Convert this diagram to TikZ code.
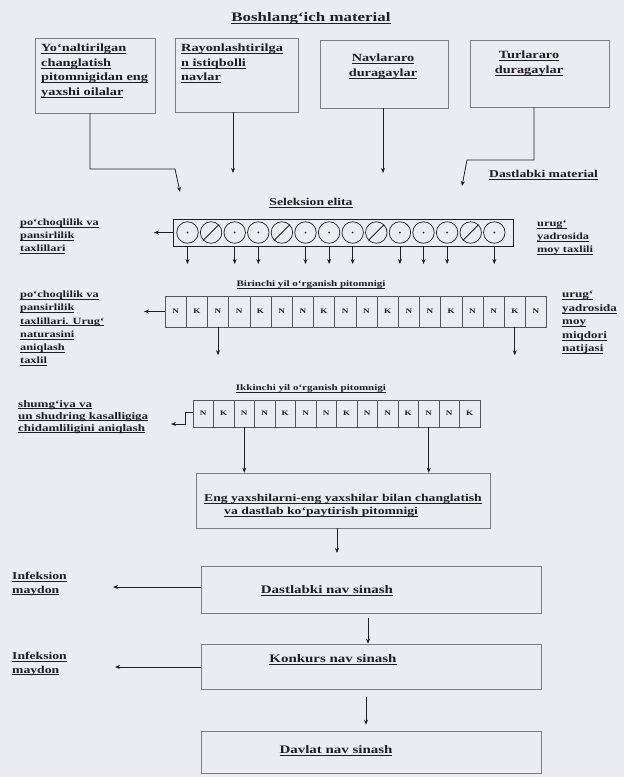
\documentclass[tikz,border=0pt]{standalone}
\usepackage{fontspec}
\setmainfont{Liberation Serif}[FakeStretch=1.3]
\usetikzlibrary{arrows.meta,calc}
\definecolor{bg}{RGB}{233,236,240}
\definecolor{ink}{RGB}{30,30,35}
\definecolor{boxc}{RGB}{125,125,130}
\newcommand{\uln}[1]{\underline{\raisebox{0pt}[\height][0pt]{#1}}}
\newcommand{\fsz}[2]{\fontsize{#1}{#2}\selectfont}
\tikzset{
  txt/.style={text=ink, inner sep=0pt, align=left},
  lab/.style={txt, font=\bfseries\fsz{9.5}{13}},
  boxtxt/.style={txt, font=\bfseries\fsz{11}{14.5}},
  bigtxt/.style={txt, font=\bfseries\fsz{11.5}{14}},
  rowttl/.style={txt, font=\bfseries\fsz{8.5}{11}},
  boxs/.style={draw=boxc, line width=0.6pt, inner sep=0pt},
  ring/.style={circle, draw=ink, line width=0.7pt, minimum size=21.5pt, inner sep=0pt},
  cell/.style={draw=ink!75, line width=0.5pt, inner sep=0pt, font=\bfseries\fsz{7}{8}, text=ink},
  arr/.style={draw=ink, line width=0.8pt, -{Stealth[length=5pt,width=4pt]}}
}
\begin{document}
\begin{tikzpicture}[x=1pt,y=-1pt]
\fill[bg] (0,0) rectangle (624,777);
\useasboundingbox (0,0) rectangle (624,777);

% title
\node[txt, font=\bfseries\fsz{13}{15}] (title) at (311,18) {\uln{Boshlang‘ich material}};

% top boxes
\node[boxs, minimum width=120pt, minimum height=75pt] (b1) at (95,75.5) {};
\node[boxtxt, anchor=north west] (t1) at (41,44) {\uln{Yo‘naltirilgan}\\\uln{changlatish}\\\uln{pitomnigidan eng}\\\uln{yaxshi oilalar}};
\node[boxs, minimum width=123pt, minimum height=74pt] (b2) at (236.5,75) {};
\node[boxtxt, anchor=north west] (t2) at (181,44) {\uln{Rayonlashtirilga}\\\uln{n istiqbolli}\\\uln{navlar}};
\node[boxs, minimum width=128pt, minimum height=68pt] (b3) at (384,74) {};
\node[boxtxt, anchor=north, align=center] (t3) at (383,54) {\uln{Navlararo}\\\uln{duragaylar}};
\node[boxs, minimum width=139pt, minimum height=67pt] (b4) at (539.5,73.5) {};
\node[boxtxt, anchor=north, align=center] (t4) at (529,51) {\uln{Turlararo}\\\uln{duragaylar}};

\node[txt, font=\bfseries\fsz{10.5}{12}, anchor=west] (dm) at (489,175) {\uln{Dastlabki material}};

% connectors from top boxes
\coordinate (k1) at (90,169);
\coordinate (k2) at (175,169);
\coordinate (tip1) at (180,192);
\draw[arr] (b1.south -| k1) -- (k1) -- (k2) -- (tip1);
\coordinate (tip2) at (233,173);
\draw[arr] (b2.south -| tip2) -- (tip2);
\coordinate (tip3) at (383,173);
\draw[arr] (b3.south -| tip3) -- (tip3);
\coordinate (k3) at (534,160);
\coordinate (k4) at (467,160);
\coordinate (tip4) at (462,186);
\draw[arr] (b4.south -| k3) -- (k3) -- (k4) -- (tip4);

% Seleksion elita row
\node[txt, font=\bfseries\fsz{10.5}{12}] (sel) at (311,203) {\uln{Seleksion elita}};
\node[draw=ink, line width=0.7pt, minimum width=340pt, minimum height=27pt, inner sep=0pt] (r1) at (343,232.5) {};
\foreach \i in {1,...,14}{
  \node[ring] (c\i) at ({187.5+23.6*(\i-1)},232.5) {};
}
\foreach \i in {1,3,4,6,7,8,10,11,12,14}{
  \fill[ink] (c\i.center) circle (1pt);
  \coordinate (d\i) at ($(c\i.center)+(0,31.5)$);
  \draw[arr] (c\i |- r1.south) -- (d\i);
}
\foreach \i in {2,5,9,13}{
  \draw[ink, line width=0.9pt] (c\i.225) -- (c\i.45);
}
\coordinate (la1) at (154,232.5);
\draw[arr] (r1.west) -- (la1);
\node[lab, anchor=north west] (l1) at (20,219) {\uln{po‘choqlilik va}\\\uln{pansirlilik}\\\uln{taxlillari}};
\node[lab, anchor=north west] (rt1) at (537,220) {\uln{urug‘}\\\uln{yadrosida}\\\uln{moy taxlili}};

% Birinchi yil row
\node[rowttl] (bir) at (311,285) {\uln{Birinchi yil o‘rganish pitomnigi}};
\foreach \t [count=\i] in {N,K,N,N,K,N,N,K,N,N,K,N,N,K,N,N,K,N}{
  \node[cell, minimum width=21.2pt, minimum height=31pt] (a\i) at ({165+21.2*(\i-0.5)},311.5) {\t};
}
\coordinate (la2) at (144,311.5);
\draw[arr] (a1.west) -- (la2);
\coordinate (da3) at ($(a3.south)+(0,28)$);
\coordinate (da17) at ($(a17.south)+(0,28)$);
\draw[arr] (a3.south) -- (da3);
\draw[arr] (a17.south) -- (da17);
\node[lab, anchor=north west, font=\bfseries\fsz{9.5}{13.2}] (l2) at (20,291) {\uln{po‘choqlilik va}\\\uln{pansirlilik}\\\uln{taxlillari. Urug‘}\\\uln{naturasini}\\\uln{aniqlash}\\\uln{taxlil}};
\node[lab, anchor=north west, font=\bfseries\fsz{10}{13.5}] (rt2) at (562,291) {\uln{urug‘}\\\uln{yadrosida}\\\uln{moy}\\\uln{miqdori}\\\uln{natijasi}};

% Ikkinchi yil row
\node[rowttl] (ikk) at (311,389) {\uln{Ikkinchi yil o‘rganish pitomnigi}};
\foreach \t [count=\i] in {N,K,N,N,K,N,N,K,N,N,K,N,N,K}{
  \node[cell, minimum width=20.5pt, minimum height=27pt] (e\i) at ({193+20.5*(\i-0.5)},413.5) {\t};
}
\coordinate (s1) at (185,412);
\coordinate (s2) at (185,424);
\coordinate (la3) at (171,424);
\draw[arr] (e1.west |- s1) -- (s1) -- (s2) -- (la3);
\node[lab, anchor=north west, font=\bfseries\fsz{10}{12}] (l3) at (18,400) {\uln{shumg‘iya va}\\\uln{un shudring kasalligiga}\\\uln{chidamliligini aniqlash}};

% best x best box
\node[boxs, minimum width=294pt, minimum height=55pt] (bb) at (343,500.5) {};
\draw[arr] (e3.south) -- (e3.south |- bb.north);
\draw[arr] (e12.south) -- (e12.south |- bb.north);
\node[txt, font=\bfseries\fsz{10.5}{13}, anchor=north west] (bbt) at (204,494) {\uln{Eng yaxshilarni-eng yaxshilar bilan changlatish}\\\hspace*{20pt}\uln{va dastlab ko‘paytirish pitomnigi}};

% trial boxes
\node[boxs, minimum width=340pt, minimum height=47pt] (ba) at (371,589.5) {};
\node[bigtxt] (bat) at (327,591) {\uln{Dastlabki nav sinash}};
\node[boxs, minimum width=340pt, minimum height=45pt] (bk) at (371,666.5) {};
\node[bigtxt] (bkt) at (333,660) {\uln{Konkurs nav sinash}};
\node[boxs, minimum width=340pt, minimum height=42pt] (bd) at (371,752) {};
\node[bigtxt] (bdt) at (336,751) {\uln{Davlat nav sinash}};

\coordinate (m1) at (337,553);
\draw[arr] (bb.south -| m1) -- (m1);
\draw[arr, shorten <=5pt] (ba.south -| 368,0) -- (bk.north -| 368,0);
\draw[arr, shorten <=8pt, shorten >=6pt] (bk.south -| 366,0) -- (bd.north -| 366,0);

\coordinate (ia) at (113,587);
\draw[arr] (ba.west |- ia) -- (ia);
\coordinate (ib) at (115,667);
\draw[arr] (bk.west |- ib) -- (ib);
\node[txt, font=\bfseries\fsz{10.5}{13.5}, anchor=north west] (inf1) at (12,572) {\uln{Infeksion}\\\uln{maydon}};
\node[txt, font=\bfseries\fsz{10.5}{13.5}, anchor=north west] (inf2) at (12,652) {\uln{Infeksion}\\\uln{maydon}};
\end{tikzpicture}
\end{document}
